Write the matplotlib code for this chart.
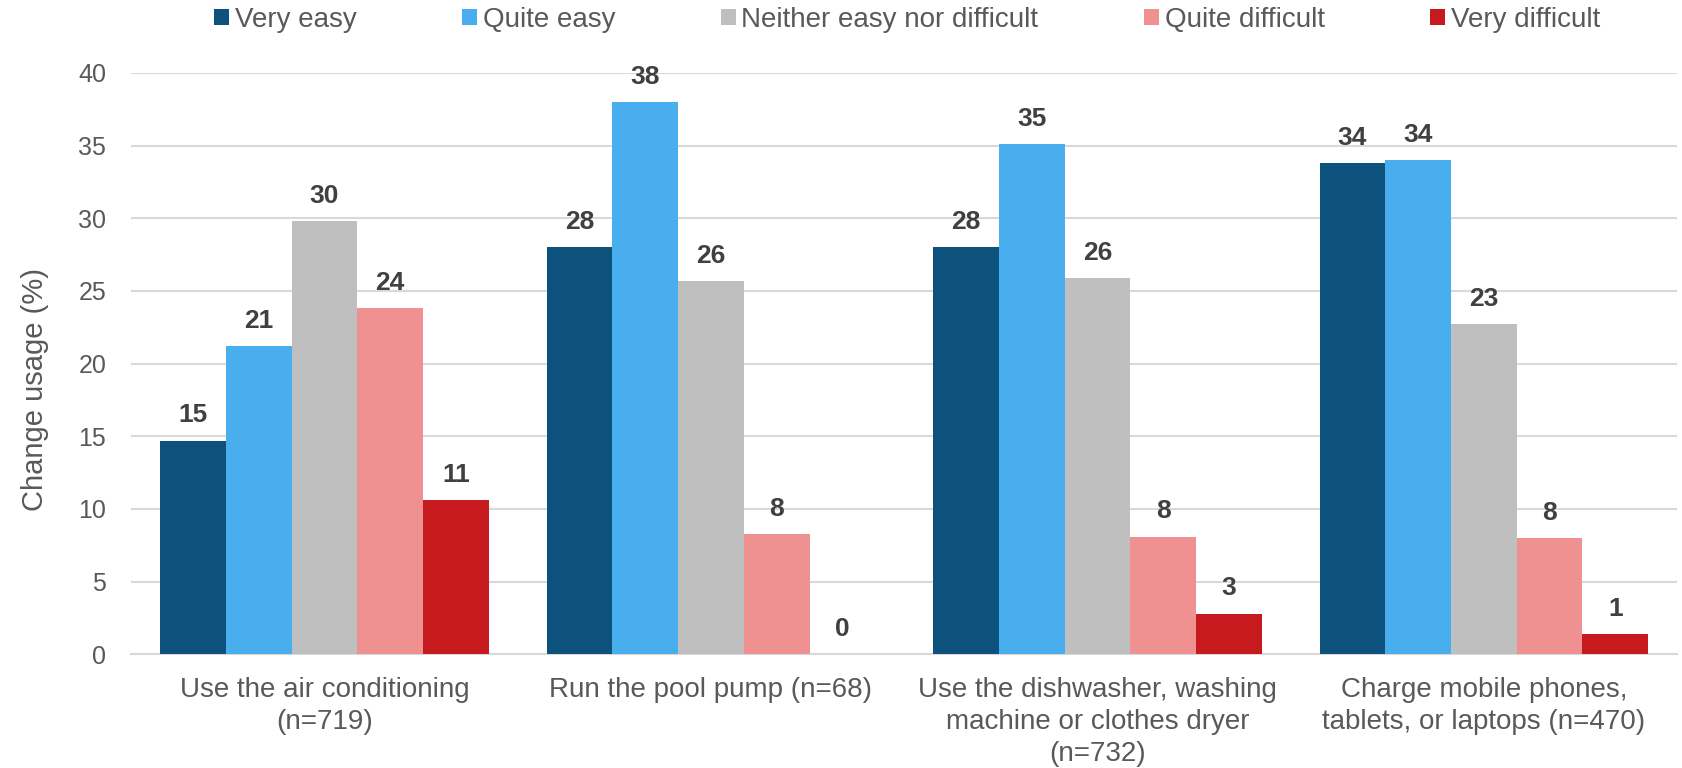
import matplotlib.pyplot as plt
import numpy as np

plt.rcParams['font.family'] = ['Liberation Sans', 'DejaVu Sans']

categories = ["Use the air conditioning\n(n=719)",
              "Run the pool pump (n=68)",
              "Use the dishwasher, washing\nmachine or clothes dryer\n(n=732)",
              "Charge mobile phones,\ntablets, or laptops (n=470)"]
series = ["Very easy", "Quite easy", "Neither easy nor difficult",
          "Quite difficult", "Very difficult"]
very_easy = [14.7, 28.0, 28.0, 33.8]
quite_easy = [21.2, 38.0, 35.1, 34.0]
neither = [29.8, 25.7, 25.9, 22.7]
quite_difficult = [23.8, 8.3, 8.1, 8.0]
very_difficult = [10.6, 0.0, 2.8, 1.4]
colors = ["#0D527C", "#48AEEE", "#BFBFBF", "#F09191", "#C61A1E"]

values = [very_easy, quite_easy, neither, quite_difficult, very_difficult]

fig = plt.figure(figsize=(16.83, 7.68), dpi=100)
ax = fig.add_axes([0.078, 0.148, 0.9185, 0.757])

x = np.arange(len(categories))
width = 0.17
for i, (name, vals) in enumerate(zip(series, values)):
    pos = x + (i - 2) * width
    ax.bar(pos, vals, width, color=colors[i], label=name, zorder=3)
    for px, v in zip(pos, vals):
        ax.annotate("{:.0f}".format(v), (px, v), xytext=(0, 9.5),
                    textcoords="offset points", ha="center", va="bottom",
                    fontsize=19, fontweight="bold", color="#404040")

ax.set_xlim(-0.5, 3.5)
ax.set_ylim(0, 40)
ax.set_yticks(range(0, 45, 5))
ax.set_xticks(x)
ax.set_xticklabels(categories, fontsize=20, color="#595959", linespacing=1.3)
ax.tick_params(axis="y", labelsize=18, labelcolor="#595959", length=0, pad=18)
ax.tick_params(axis="x", length=0, pad=16)
ax.yaxis.grid(True, color="#D9D9D9", linewidth=1.5, zorder=0)
for s in ["top", "right", "left"]:
    ax.spines[s].set_visible(False)
ax.spines["bottom"].set_color("#D9D9D9")
ax.spines["bottom"].set_linewidth(1.5)
ax.set_ylabel("Change usage (%)", fontsize=21, color="#595959")
ax.yaxis.set_label_coords(-0.053, 0.456)

fig.legend(loc="center", bbox_to_anchor=(0.539, 0.974), ncol=5, frameon=False,
           fontsize=20, handlelength=0.54, handleheight=0.54, handletextpad=0.2,
           columnspacing=3.8, labelcolor="#595959")

fig.savefig("out.png", dpi=100)
